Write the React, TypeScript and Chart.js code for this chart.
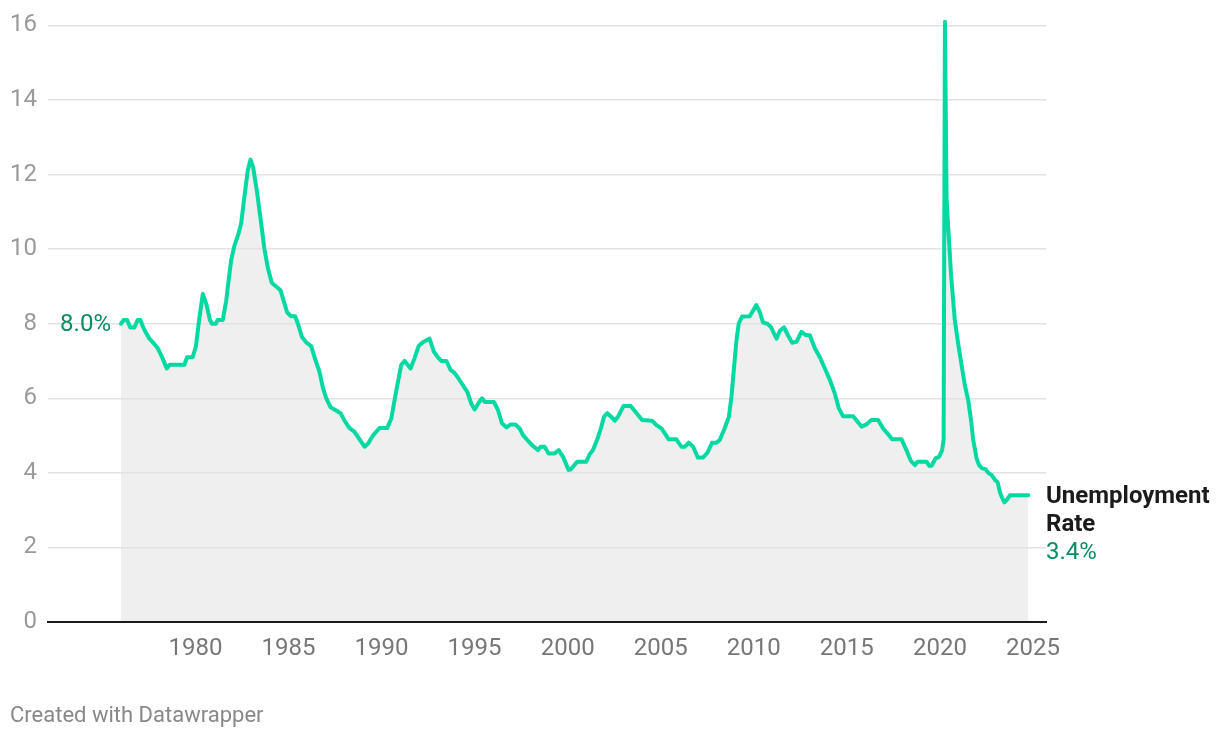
import React, { useEffect, useRef } from "react";
import { Chart, registerables } from "chart.js";

Chart.register(...registerables);

// Decimal years (month positions) and unemployment rate (%)
const YEARS: number[] = [
  1976.0, 1976.15, 1976.33, 1976.5, 1976.72, 1976.9, 1977.04, 1977.2, 1977.35, 1977.53,
  1977.8, 1977.97, 1978.24, 1978.46, 1978.62, 1979.41, 1979.55, 1979.85, 1980.03, 1980.2,
  1980.4, 1980.6, 1980.78, 1980.88, 1981.1, 1981.2, 1981.47, 1981.65, 1981.77, 1981.92,
  1982.1, 1982.31, 1982.46, 1982.63, 1982.81, 1982.96, 1983.1, 1983.32, 1983.53, 1983.71,
  1983.89, 1984.1, 1984.34, 1984.57, 1984.75, 1984.93, 1985.14, 1985.36, 1985.54, 1985.72,
  1985.95, 1986.22, 1986.4, 1986.67, 1986.84, 1987.03, 1987.26, 1987.47, 1987.8, 1988.01,
  1988.28, 1988.55, 1988.82, 1989.09, 1989.3, 1989.53, 1989.89, 1990.3, 1990.52, 1990.79,
  1991.06, 1991.24, 1991.56, 1991.77, 1991.99, 1992.22, 1992.4, 1992.58, 1992.81, 1993.03,
  1993.21, 1993.48, 1993.71, 1993.92, 1994.14, 1994.37, 1994.61, 1994.82, 1995.0, 1995.22,
  1995.4, 1995.55, 1996.04, 1996.26, 1996.47, 1996.71, 1996.94, 1997.19, 1997.42, 1997.6,
  1997.87, 1998.14, 1998.41, 1998.55, 1998.76, 1998.98, 1999.3, 1999.52, 1999.75, 2000.05,
  2000.16, 2000.34, 2000.52, 2001.0, 2001.18, 2001.36, 2001.63, 2001.81, 2001.95, 2002.13,
  2002.35, 2002.53, 2002.7, 2003.0, 2003.39, 2003.64, 2004.0, 2004.53, 2004.77, 2005.04,
  2005.22, 2005.43, 2005.84, 2006.11, 2006.29, 2006.51, 2006.74, 2007.0, 2007.27, 2007.51,
  2007.76, 2008.0, 2008.17, 2008.4, 2008.66, 2008.8, 2008.94, 2009.07, 2009.19, 2009.37,
  2009.78, 2009.96, 2010.14, 2010.32, 2010.5, 2010.73, 2010.91, 2011.22, 2011.4, 2011.63,
  2011.88, 2012.06, 2012.3, 2012.56, 2012.78, 2013.01, 2013.28, 2013.55, 2013.82, 2014.09,
  2014.35, 2014.57, 2014.8, 2015.34, 2015.58, 2015.79, 2016.06, 2016.32, 2016.68, 2016.95,
  2017.18, 2017.43, 2017.94, 2018.2, 2018.44, 2018.66, 2018.8, 2019.28, 2019.43, 2019.55,
  2019.77, 2019.95, 2020.12, 2020.2, 2020.27, 2020.36, 2020.6, 2020.8, 2021.0, 2021.18,
  2021.34, 2021.52, 2021.67, 2021.79, 2021.97, 2022.1, 2022.27, 2022.45, 2022.6, 2022.78,
  2022.96, 2023.1, 2023.23, 2023.35, 2023.46, 2023.59, 2023.76, 2024.75,
];

const RATES: number[] = [
  8.0, 8.1, 8.1, 7.9, 7.9, 8.1, 8.1, 7.9, 7.75, 7.6,
  7.45, 7.35, 7.07, 6.8, 6.9, 6.9, 7.1, 7.1, 7.4, 8.1,
  8.8, 8.5, 8.1, 8.0, 8.0, 8.1, 8.1, 8.6, 9.1, 9.7,
  10.1, 10.4, 10.7, 11.4, 12.1, 12.4, 12.2, 11.5, 10.7, 10.0,
  9.5, 9.1, 9.0, 8.9, 8.6, 8.3, 8.2, 8.2, 7.95, 7.65,
  7.5, 7.4, 7.1, 6.7, 6.3, 6.0, 5.76, 5.7, 5.6, 5.4,
  5.2, 5.1, 4.9, 4.7, 4.8, 5.0, 5.2, 5.2, 5.45, 6.2,
  6.9, 7.0, 6.8, 7.07, 7.4, 7.5, 7.55, 7.6, 7.25, 7.1,
  7.0, 7.0, 6.76, 6.68, 6.53, 6.35, 6.17, 5.86, 5.7, 5.88,
  6.0, 5.9, 5.9, 5.68, 5.33, 5.22, 5.3, 5.3, 5.19, 5.01,
  4.86, 4.72, 4.61, 4.7, 4.7, 4.52, 4.52, 4.61, 4.43, 4.08,
  4.09, 4.2, 4.3, 4.3, 4.5, 4.61, 4.95, 5.24, 5.5, 5.6,
  5.5, 5.4, 5.5, 5.79, 5.79, 5.64, 5.42, 5.4, 5.28, 5.19,
  5.06, 4.9, 4.9, 4.7, 4.7, 4.81, 4.7, 4.41, 4.41, 4.54,
  4.81, 4.81, 4.88, 5.15, 5.5, 6.04, 6.84, 7.56, 8.0, 8.19,
  8.2, 8.35, 8.5, 8.32, 8.03, 8.0, 7.92, 7.6, 7.81, 7.9,
  7.65, 7.49, 7.52, 7.78, 7.7, 7.69, 7.34, 7.1, 6.8, 6.49,
  6.13, 5.73, 5.52, 5.52, 5.37, 5.24, 5.3, 5.42, 5.42, 5.19,
  5.06, 4.9, 4.9, 4.61, 4.32, 4.21, 4.3, 4.3, 4.19, 4.19,
  4.39, 4.43, 4.61, 4.9, 16.1, 11.3, 9.3, 8.1, 7.4, 6.84,
  6.35, 5.95, 5.42, 4.88, 4.39, 4.21, 4.12, 4.1, 4.0, 3.94,
  3.81, 3.75, 3.47, 3.32, 3.21, 3.27, 3.4, 3.4,
];

const X_TICKS: number[] = [1980, 1985, 1990, 1995, 2000, 2005, 2010, 2015, 2020, 2025];
const Y_TICKS: number[] = [0, 2, 4, 6, 8, 10, 12, 14, 16];
const SERIES_NAME_LINES: string[] = ["Unemployment", "Rate"];
const FOOTER = "Created with Datawrapper";

const LINE_COLOR = "#04d9a1";
const LABEL_GREEN = "#0b8c62";
const FONT = "Roboto, 'Noto Sans', sans-serif";

const labelsPlugin = {
  id: "endLabels",
  afterDatasetsDraw(chart: any) {
    const { ctx, scales } = chart;
    const xs = scales.x;
    const ys = scales.y;
    ctx.save();
    // start label
    const x0 = xs.getPixelForValue(YEARS[0]);
    const y0 = ys.getPixelForValue(RATES[0]);
    ctx.font = `24px ${FONT}`;
    ctx.fillStyle = LABEL_GREEN;
    ctx.textAlign = "right";
    ctx.textBaseline = "middle";
    ctx.fillText(`${RATES[0].toFixed(1)}%`, x0 - 10, y0 + 1);
    // end label
    const last = RATES.length - 1;
    const ye = ys.getPixelForValue(RATES[last]) + 2;
    const xe = chart.chartArea.right;
    ctx.textAlign = "left";
    ctx.font = `bold 24px ${FONT}`;
    ctx.fillStyle = "#1b1b1b";
    SERIES_NAME_LINES.forEach((t, i) => ctx.fillText(t, xe, ye + i * 28));
    ctx.font = `24px ${FONT}`;
    ctx.fillStyle = LABEL_GREEN;
    ctx.fillText(`${RATES[last].toFixed(1)}%`, xe, ye + SERIES_NAME_LINES.length * 28);
    ctx.restore();
  },
};

export default function App() {
  const ref = useRef<HTMLCanvasElement | null>(null);

  useEffect(() => {
    if (!ref.current) return;
    const chart = new Chart(ref.current, {
      type: "line",
      data: {
        datasets: [
          {
            data: YEARS.map((x, i) => ({ x, y: RATES[i] })),
            borderColor: LINE_COLOR,
            borderWidth: 4,
            pointRadius: 0,
            fill: "origin",
            backgroundColor: "#efefef",
            tension: 0,
            clip: false as any,
            borderJoinStyle: "round",
            borderCapStyle: "round",
          },
        ],
      },
      options: {
        animation: false,
        responsive: false,
        maintainAspectRatio: false,
        events: [],
        layout: { padding: { left: 0, right: 174, top: 25, bottom: 76 } },
        plugins: {
          legend: { display: false },
          tooltip: { enabled: false },
          filler: { drawTime: "beforeDraw" } as any,
        },
        scales: {
          x: {
            type: "linear",
            min: 1972.08,
            max: 2025.7,
            afterBuildTicks: (s: any) => {
              s.ticks = X_TICKS.map((v) => ({ value: v }));
            },
            afterFit: (s: any) => {
              s.height = 40;
            },
            ticks: {
              autoSkip: false,
              maxRotation: 0,
              padding: 13,
              color: "#777777",
              font: { family: FONT, size: 24 },
              callback: (v: any) => String(v),
            },
            grid: { display: false, drawTicks: false },
            border: { display: true, color: "#1b1b1b", width: 2 },
          },
          y: {
            min: 0,
            max: 16,
            afterBuildTicks: (s: any) => {
              s.ticks = Y_TICKS.map((v) => ({ value: v }));
            },
            afterFit: (s: any) => {
              s.width = 48;
            },
            ticks: {
              padding: 11,
              color: "#9a9a9a",
              font: { family: FONT, size: 24 },
              callback: (v: any) => String(v),
            },
            grid: {
              drawTicks: false,
              color: (c: any) => (c.tick && c.tick.value === 0 ? "rgba(0,0,0,0)" : "#e2e2e2"),
              lineWidth: 1.5,
            },
            border: { display: false },
          },
        },
      },
      plugins: [labelsPlugin],
    });
    return () => chart.destroy();
  }, []);

  return (
    <div style={{ position: "absolute", left: 0, top: 0, width: 1220, height: 738, background: "#fff" }}>
      <canvas ref={ref} width={1220} height={738} style={{ width: 1220, height: 738, display: "block" }} />
      <div
        style={{
          position: "absolute",
          left: 10,
          top: 703,
          fontFamily: FONT,
          fontSize: 22,
          lineHeight: "24px",
          color: "#888888",
          whiteSpace: "nowrap",
        }}
      >
        {FOOTER}
      </div>
    </div>
  );
}
